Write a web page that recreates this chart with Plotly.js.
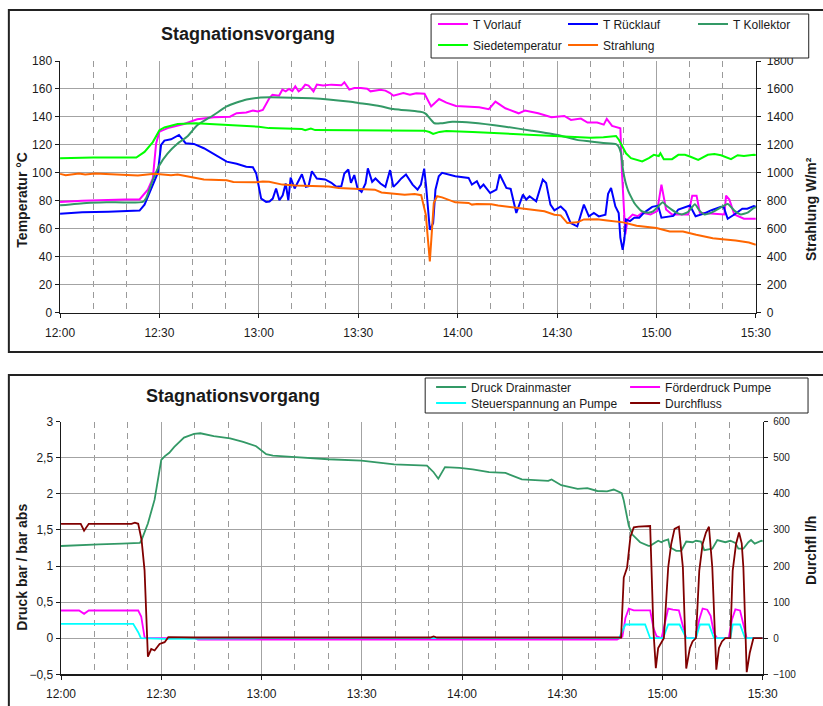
<!DOCTYPE html>
<html><head><meta charset="utf-8">
<script src="https://cdn.plot.ly/plotly-3.0.1.min.js"></script>
<style>html,body{margin:0;padding:0;background:#fff;overflow:hidden}#chart{width:823px;height:706px}</style>
</head><body><div id="chart"></div>
<script>
// ---------- tick labels ----------
const timeTickVals = [0, 30, 60, 90, 120, 150, 180, 210];
const timeTickText = ['12:00', '12:30', '13:00', '13:30', '14:00', '14:30', '15:00', '15:30'];

// ---------- top chart: temperatures (°C), minutes after 12:00 ----------
const vorlaufMin = [0,6.7,19.6,24,26.5,28,29,30,32.5,37.4,41.4,46.4,51.3,53.3,56.2,58.2,59.7,61.2,63.2,64.1,66.1,67.1,68.1,69.1,70.1,71,72,73,74,75,76.5,77.5,79.4,81.9,84.9,85.8,87.3,88.8,90.8,92.7,93.7,96.7,98.2,99.6,100.6,102.6,103.6,105.6,107.5,110,112,114.4,116.6,119.5,126.5,129.4,131.4,134.4,138.4,140.3,144.3,148.3,152.2,154.2,157.2,159.2,162.1,164.1,165,166.6,169.1,169.6,170.2,170.6,171.3,172.8,174.3,175.7,178.2,180.2,181.5,182.9,184.7,189.6,190.8,192.1,193.1,197.5,200.5,201,202,203.5,206.4,210];
const vorlaufTemp = [79.2,80.1,80.9,81,88,96,121,129.5,132,135,138.3,139.8,140.2,142.7,143.2,144.6,143.9,145,153.5,155.9,155.2,159.5,158.3,160,158.5,161.9,158.3,160,163.1,162.4,158.3,163.1,162.4,163.1,162.6,164.8,159.5,160.7,160.7,160.2,158.3,159.5,158.8,157.1,155.2,156.2,157.1,155.9,157,156.6,147.5,152.8,150.2,147.9,147,145.5,151,146.2,142.6,144.5,142.6,139.8,140.7,137.9,138.8,136,136,134.5,138.6,133.6,131.9,100,70,56,66.7,70.2,69,71.4,70.2,72.6,91.6,73.8,70.2,70.2,83.7,83.7,71.4,71,70.2,83.7,80.9,70.2,67.2,67.2];

const ruecklaufMin = [0,6.7,14.6,18.6,24,25.5,27.5,29.5,30.5,31.5,33.5,35.9,37.9,40.4,43.4,47.4,50.3,53.3,56.2,58.2,59.2,60.7,62.2,63.2,64.2,65.2,66.2,67.2,68.1,68.9,69.6,70.8,72,73,74.2,75,76,77.5,80,81.9,83.4,84.9,85.8,87,87.8,88.8,89.8,91,92.2,92.9,94.2,95.2,96.7,98.2,99.6,100.6,101.9,103,104.4,106.4,107.9,108.9,109.9,110.5,111.6,112.6,113.3,114.3,115.3,119.3,123.3,124.3,125.8,126.8,127.8,129.8,131.7,132.7,134.7,136,137.7,139.7,140.7,141.7,143.7,145.7,146.7,148,149.2,151.1,152.6,154.1,156.1,157.6,158.1,159.6,161.1,162.6,164.6,165.4,166.3,167.6,168.6,169.1,169.8,170.3,170.8,172,173.3,174.8,176.2,178.7,180.5,181.5,183.7,185.1,186.6,188.6,190.1,191.8,194.1,196.6,199.5,200.3,201.5,203.5,205.9,207.4,209.4,210];
const ruecklaufTemp = [70.8,71.8,72.2,72.7,73,77.3,88,100,120,123.1,124,127.1,121.2,120.7,117.6,112,108,106.5,104.4,104,99.6,81.6,79.2,79.5,81.6,88.8,80.4,84,92.4,80.4,96.7,88.8,94.8,99,90,90.5,101.2,96,95.3,92.9,90,90.5,99.6,102.4,92.9,98.4,88.8,86.4,92.4,103.2,93.6,96,92.4,90,102,90,93,96,98.8,91.6,88,91.6,103,90,59.3,64,88,97.6,100,97.6,96.4,91.6,94,89.2,91.6,85.6,88,98.8,89.2,88.5,71.3,84.4,80.9,83.3,79.7,95.2,92.8,77.3,73.2,76,72.5,64.1,61.7,72.5,77.3,68.9,71.3,68.9,70.1,85,89.2,76,71.3,53.7,45,52,66.7,65.5,67.9,67.9,71.4,75.7,76.6,67.9,69,69.2,73.8,75.7,76.6,69,70.7,73.3,75.7,75.5,67.2,70.2,74.3,74.3,76.2,75.8];

const kollektorMin = [0,8,14,25,26,28,30,32.5,35.5,38.4,41.4,46.4,50.3,53.3,56.3,60,63.3,70,76,81,87,90,96,100.6,103,107,109.6,110.5,113,115,118.4,124.5,134.4,142.3,150.2,156,160,164,167.8,168.5,169.3,169.8,170.3,170.8,171.5,172.3,173.3,174.3,175.3,176.2,177.5,179,180.5,181.9,183,184.7,186,187.6,189.5,191.6,193,194.5,196,198,201.5,203.5,205.4,207.5,209.4,210];
const kollektorTemp = [76.8,78.5,79,79.2,82,95,105.5,114,121,126,134,141.4,147.5,150.3,152.5,153.8,154,153.7,153.3,152.5,151,150,148,145.6,145,144.3,143.3,142,135.5,135.5,136.5,135.8,133,130.2,127.1,123.6,122.5,121.3,120.5,119,114,104,97,92,87,83,78.5,75.5,73,72,71.5,72.5,76,79,76.5,73.5,71.5,70.3,72,77.5,73,70.3,71,73.3,77.8,73,70.3,71.5,75,75.5];

const siedeMin = [0,5,10,23,25.5,28,30,31.5,35.5,41,49,53,57,60,63,70,73,74,75.7,77,83,95,110,111.5,112.6,114.5,116.6,124.5,132,140.3,150.2,160,164,166,167.8,168.7,169.8,170.8,172.3,175.7,177.7,179.2,180.7,181.2,182.2,184.7,186.6,188.6,190.1,192.6,195.5,197.5,199.5,202.5,204.5,206.4,209.4,210];
const siedeTemp = [110.5,110.8,111,111,115,122,130.5,132.5,135,135.5,134.5,134,133.5,133,132,131.5,131.3,130.5,131.7,130.6,130.5,130.2,130.2,129.2,127.8,129.3,130,129.2,128.3,127.4,126.3,125.2,125.4,126.2,126.4,123.5,118.8,114,110.5,108.2,110.5,112.9,112,114,109.8,109.8,112.9,112.9,111.7,109.3,112.9,113.4,112.6,109.8,112.6,112,112.9,112.8];

// radiation (W/m²), right axis
const strahlungMin = [0,1.7,5.7,7.6,10.6,19.6,23.5,28.5,33.5,35.5,41.4,43.4,50.3,52.3,59.2,61.2,63.1,67.1,71.1,75.2,81.1,84.1,89.1,95,97,101,104,107,109,110.4,111.6,112.8,113.8,115.3,119.3,123.3,124.3,125.8,130.2,132.2,138.2,142.2,146.2,149.2,151.1,153.1,156.1,158.1,162.1,165.1,170,174,180,184,188,192,197,199.9,203.9,207.9,210];
const strahlungWm2 = [993,983,995,988,995,988,981,993,983,988,964,952,947,935,933,938,936,916,909,904,902,892,885,880,860,852,844,848,840,700,366,785,833,825,789,785,773,778,775,766,749,740,725,701,696,641,646,667,668,660,646,622,605,581,580,557,533,526,517,502,486];

// ---------- bottom chart ----------
const drainMin = [0,6.4,11.3,18.2,23.6,24.1,26,28,30,31,32.4,33.9,36.8,39.8,41.7,45.7,50.6,54.5,58.4,61.4,63.4,70.2,80,89.9,99.7,109.5,111.5,112.9,114.9,119.3,123.2,128.1,133,137.9,142.8,145.8,146.8,149.7,154.6,157.5,160.5,163.4,165.4,167.8,168.4,169.9,170.9,173.3,175.8,176.3,178.7,179.7,180.4,181.7,182.2,184.1,185.6,187.1,189,190,191.5,192.5,194.9,196.4,198.8,200.3,201.8,202.7,204.2,205.7,206.5,207.6,209.6,210];
const drainBar = [1.278,1.296,1.3,1.31,1.32,1.36,1.59,1.92,2.47,2.52,2.57,2.65,2.78,2.83,2.84,2.8,2.77,2.72,2.66,2.55,2.53,2.51,2.48,2.46,2.41,2.39,2.3,2.21,2.37,2.36,2.34,2.3,2.29,2.2,2.19,2.18,2.2,2.12,2.07,2.08,2.04,2.035,2.06,2.01,1.91,1.56,1.44,1.33,1.28,1.28,1.35,1.33,1.35,1.37,1.26,1.21,1.21,1.34,1.33,1.35,1.34,1.22,1.24,1.36,1.33,1.35,1.32,1.24,1.24,1.33,1.36,1.31,1.35,1.34];

const foerderMin = [0,5.4,6.9,8.3,23.1,24,25,25.5,40,41,166.4,167,168,168.9,169.9,171.4,176.3,177.3,178.2,179.7,180.7,181.7,183.1,184.9,186.1,187.1,190,191,192,193.4,194.4,195.4,196.4,199.8,200.8,201.8,203.2,204.2,205.2,210];
const foerderBar = [0.384,0.384,0.338,0.384,0.384,0.3,0.014,0,0,-0.018,-0.018,0,0.02,0.28,0.41,0.385,0.385,0.14,0.03,0,0.19,0.41,0.395,0.385,0.17,0,0,0.26,0.41,0.395,0.31,0.07,0,0,0.26,0.4,0.385,0.17,0,0];

const steuerMin = [0,21.6,23.1,23.9,30.9,60,167,168,168.9,174.8,176.3,180.2,181.7,185.1,187.1,190,191.2,193.9,195.4,200.3,201,203.2,204.7,210];
const steuerBar = [0.199,0.199,0.083,0,-0.01,0,0,0.1,0.19,0.19,0,0,0.19,0.19,0,0,0.19,0.19,0,0,0.19,0.19,0,0];

// flow (l/h), right axis
const flussMin = [0,5.9,6.9,8.3,21.1,22.1,23.1,24.1,25,26,27,28,29.5,31,32.1,40,110.5,111.5,112.5,167.6,168.4,169.4,170.4,171.4,172.8,176.3,177.3,178,178.7,179.7,180.4,181.7,182.6,183.6,184.9,186.1,187.1,188.2,189,190,191,192,193,193.9,194.9,196.1,196.9,197.8,198.8,200.3,201,202,202.9,203.7,204.2,205.2,206.1,207.2,210];
const flussLh = [317,317,298,317,317,320,317,273,188,-51,-30,-34,-16,-11,3,2,2,5,2,2,168,196,281,307,309,311,19,-83,-27,-13,0,196,261,303,309,196,-84,-27,-9,0,187,261,293,309,196,-87,-27,-9,0,0,187,261,293,263,196,-94,-41,0,0];

// ---------- layout helpers ----------
const W = 823, H = 706;
const px = v => v / W;
const py = v => 1 - v / H;
const FONT = 'Arial, "Liberation Sans", sans-serif';
const GRID = '#a3a3a3';
const INK = '#1a1a1a';
const alias = {};
timeTickVals.forEach((v, i) => { alias[String(v)] = timeTickText[i]; });

function timeAxis(domain, anchor) {
  return {
    domain: domain, anchor: anchor, range: [0, 210], tickmode: 'linear', tick0: 0, dtick: 30,
    labelalias: alias, showgrid: true, gridcolor: GRID, gridwidth: 1, zeroline: false,
    showline: true, linecolor: INK, linewidth: 1.5, ticks: 'outside', ticklen: 4, tickcolor: INK,
    ticklabelstandoff: 4,
    tickfont: {family: FONT, size: 12, color: INK},
    minor: {tick0: 0, dtick: 10, showgrid: true, gridcolor: '#9a9a9a', griddash: '6px,5px', gridwidth: 1, ticks: ''},
    fixedrange: true
  };
}
function valAxis(o) {
  return Object.assign({
    showgrid: true, gridcolor: GRID, gridwidth: 1, zeroline: false, showline: true,
    linecolor: INK, linewidth: 1.5, ticks: 'outside', ticklen: 4, tickcolor: INK,
    tickfont: {family: FONT, size: 12, color: INK}, fixedrange: true
  }, o);
}

const topX = [px(61), px(768)], topY = [py(312.7), py(61)];
const botX = [px(62), px(775)], botY = [py(674.3), py(421.7)];

const traces = [
  {x: vorlaufMin, y: vorlaufTemp, name: 'T Vorlauf', xaxis: 'x', yaxis: 'y', legend: 'legend', line: {color: '#ff00ff', width: 2}},
  {x: ruecklaufMin, y: ruecklaufTemp, name: 'T Rücklauf', xaxis: 'x', yaxis: 'y', legend: 'legend', line: {color: '#0000ff', width: 2}},
  {x: kollektorMin, y: kollektorTemp, name: 'T Kollektor', xaxis: 'x', yaxis: 'y', legend: 'legend', line: {color: '#339966', width: 2, shape: 'spline', smoothing: 0.5}},
  {x: siedeMin, y: siedeTemp, name: 'Siedetemperatur', xaxis: 'x', yaxis: 'y', legend: 'legend2', line: {color: '#00ff00', width: 2}},
  {x: strahlungMin, y: strahlungWm2, name: 'Strahlung', xaxis: 'x', yaxis: 'y2', legend: 'legend2', line: {color: '#ff6600', width: 2}},
  {x: drainMin, y: drainBar, name: 'Druck Drainmaster', xaxis: 'x2', yaxis: 'y3', legend: 'legend3', line: {color: '#339966', width: 1.8}},
  {x: foerderMin, y: foerderBar, name: 'Förderdruck Pumpe', xaxis: 'x2', yaxis: 'y3', legend: 'legend3', line: {color: '#ff00ff', width: 1.8}},
  {x: steuerMin, y: steuerBar, name: 'Steuerspannung an Pumpe', xaxis: 'x2', yaxis: 'y3', legend: 'legend4', line: {color: '#00ffff', width: 1.8}},
  {x: flussMin, y: flussLh, name: 'Durchfluss', xaxis: 'x2', yaxis: 'y4', legend: 'legend4', line: {color: '#800000', width: 1.8}}
].map(t => Object.assign({type: 'scatter', mode: 'lines', hoverinfo: 'skip'}, t));

function legendAt(xp, yp, ew) {
  return {x: px(xp), xanchor: 'left', y: py(yp), yanchor: 'middle', orientation: 'h',
    entrywidth: ew, entrywidthmode: 'pixels', bgcolor: 'rgba(0,0,0,0)', borderwidth: 0,
    font: {family: FONT, size: 12, color: INK}, itemwidth: 30, traceorder: 'normal'};
}

function axTitle(text, xp, yp) {
  return {text: '<b>' + text + '</b>', x: px(xp), y: py(yp), xref: 'paper', yref: 'paper',
    xanchor: 'center', yanchor: 'middle', textangle: -90, showarrow: false,
    font: {family: FONT, size: 14, color: INK}};
}
function chartTitle(text, xp, yp) {
  return {text: '<b>' + text + '</b>', x: px(xp), y: py(yp), xref: 'paper', yref: 'paper',
    xanchor: 'center', yanchor: 'middle', showarrow: false, font: {family: FONT, size: 18, color: INK}};
}

const layout = {
  width: W, height: H, margin: {l: 0, r: 0, t: 0, b: 0},
  paper_bgcolor: '#ffffff', plot_bgcolor: '#ffffff', separators: ',.',
  showlegend: true,
  xaxis: timeAxis(topX, 'y'),
  yaxis: valAxis({domain: topY, anchor: 'x', range: [0, 180], dtick: 20, tick0: 0}),
  yaxis2: valAxis({overlaying: 'y', side: 'right', anchor: 'x', range: [0, 1800], dtick: 200, tick0: 0, showgrid: false, ticklabelstandoff: 3}),
  xaxis2: timeAxis(botX, 'y3'),
  yaxis3: valAxis({domain: botY, anchor: 'x2', range: [-0.5, 3], dtick: 0.5, tick0: 0}),
  yaxis4: valAxis({overlaying: 'y3', side: 'right', anchor: 'x2', range: [-100, 600], dtick: 100, tick0: 0, showgrid: false,
    ticklabelstandoff: 3, tickfont: {family: FONT, size: 10, color: INK}}),
  legend: legendAt(440, 24, 85),
  legend2: legendAt(440, 45, 85),
  legend3: legendAt(438, 387, 149),
  legend4: legendAt(438, 403, 149),
  shapes: [
    {type: 'rect', xref: 'paper', yref: 'paper', x0: px(9), x1: px(840), y0: py(10), y1: py(352), line: {color: '#222', width: 2}},
    {type: 'rect', xref: 'paper', yref: 'paper', x0: px(9), x1: px(840), y0: py(375), y1: py(720), line: {color: '#222', width: 2}},
    {type: 'rect', xref: 'paper', yref: 'paper', x0: px(438), x1: px(821.7), y0: py(14), y1: py(58), fillcolor: '#ffffff', layer: 'above', line: {color: '#222', width: 1}},
    {type: 'rect', xref: 'paper', yref: 'paper', x0: px(432), x1: px(821), y0: py(378), y1: py(413), fillcolor: '#ffffff', layer: 'above', line: {color: '#222', width: 1}}
  ],
  annotations: [
    chartTitle('Stagnationsvorgang', 251.5, 33.7),
    chartTitle('Stagnationsvorgang', 236.5, 395.7),
    axTitle('Temperatur °C', 22, 200),
    axTitle('Strahlung W/m²', 824, 209),
    axTitle('Druck bar / bar abs', 22, 567),
    axTitle('Durchfl l/h', 824, 550)
  ]
};

Plotly.newPlot('chart', traces, layout, {staticPlot: true, displayModeBar: false});
</script>
</body></html>
